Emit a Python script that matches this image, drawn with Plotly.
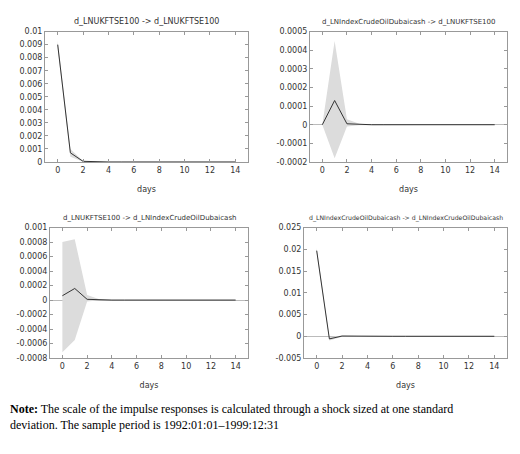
import plotly.graph_objects as go

days = list(range(15))

# impulse responses (point estimate, upper and lower band)
ftse_ftse = [0.009, 0.0007, 0.00005, 0.000005] + [0] * 11
ftse_ftse_hi = [0.0093, 0.001, 0.00008, 0.00001] + [0] * 11
ftse_ftse_lo = [0.0087, 0.0004, 0.00002, 0.0] + [0] * 11

oil_ftse = [0, 0.00013, 0.000005, 0.000001] + [0] * 11
oil_ftse_hi = [0, 0.00045, 0.00003, 0.000005] + [0] * 11
oil_ftse_lo = [0, -0.00018, -0.00001, -0.000003] + [0] * 11

ftse_oil = [0.00006, 0.00016, 0.00001, 0.000002] + [0] * 11
ftse_oil_hi = [0.0008, 0.00084, 0.00007, 0.00001] + [0] * 11
ftse_oil_lo = [-0.00072, -0.00055, -0.00002, -0.000003] + [0] * 11

oil_oil = [0.0197, -0.0006, 0.00005, 0.0] + [0] * 11
oil_oil_hi = [0.0203, -0.0002, 0.0002, 0.00002] + [0] * 11
oil_oil_lo = [0.0191, -0.001, -0.0001, -0.00002] + [0] * 11

panels = [
    ("d_LNUKFTSE100 -> d_LNUKFTSE100", ftse_ftse, ftse_ftse_hi, ftse_ftse_lo,
     [0, 0.01], [0, 0.001, 0.002, 0.003, 0.004, 0.005, 0.006, 0.007, 0.008, 0.009, 0.01],
     (37, 240), (20, 153)),
    ("d_LNIndexCrudeOilDubaicash -> d_LNUKFTSE100", oil_ftse, oil_ftse_hi, oil_ftse_lo,
     [-0.0002, 0.0005], [-0.0002, -0.0001, 0, 0.0001, 0.0002, 0.0003, 0.0004, 0.0005],
     (302, 499), (20, 153)),
    ("d_LNUKFTSE100 -> d_LNIndexCrudeOilDubaicash", ftse_oil, ftse_oil_hi, ftse_oil_lo,
     [-0.0008, 0.001], [-0.0008, -0.0006, -0.0004, -0.0002, 0, 0.0002, 0.0004, 0.0006, 0.0008, 0.001],
     (42, 240), (220, 353)),
    ("d_LNIndexCrudeOilDubaicash -> d_LNIndexCrudeOilDubaicash", oil_oil, oil_oil_hi, oil_oil_lo,
     [-0.005, 0.025], [-0.005, 0, 0.005, 0.01, 0.015, 0.02, 0.025],
     (296, 499), (220, 353)),
]

W, H = 520, 454
fig = go.Figure()
font = dict(family="DejaVu Sans", size=8, color="#333")

for i, (title, y, hi, lo, yr, yt, (x0, x1), (y0, y1)) in enumerate(panels):
    n = "" if i == 0 else str(i + 1)
    xa, ya = "x" + n, "y" + n
    fig.add_trace(go.Scatter(x=days + days[::-1], y=hi + lo[::-1], fill="toself",
                             fillcolor="#dcdcdc", line=dict(width=0), mode="lines",
                             xaxis=xa, yaxis=ya, showlegend=False, hoverinfo="skip"))
    fig.add_trace(go.Scatter(x=days, y=y, mode="lines", line=dict(color="#333", width=1),
                             xaxis=xa, yaxis=ya, showlegend=False))
    axis = dict(showgrid=False, showline=True, linecolor="#999", linewidth=1, mirror="ticks",
                ticks="inside", ticklen=3, tickcolor="#999", tickfont=font)
    fig.update_layout({
        "xaxis" + n: dict(axis, domain=[x0 / W, x1 / W], range=[-1, 15], dtick=2,
                          anchor=ya, zeroline=False,
                          title=dict(text="days", font=font, standoff=12)),
        "yaxis" + n: dict(axis, domain=[1 - y1 / H, 1 - y0 / H], range=yr, tickvals=yt,
                          ticktext=[f"{v:g}" if abs(v) >= 0.001 or v == 0 else f"{v:.4f}" for v in yt],
                          anchor=xa, zeroline=True, zerolinecolor="#bbb", zerolinewidth=1),
    })
    tsize = 8 if len(title) < 40 else 7 if len(title) < 50 else 6.2
    fig.add_annotation(text=title, x=(x0 + x1) / 2 / W, y=1 - (y0 - 4) / H, xref="paper",
                       yref="paper", showarrow=False, xanchor="center", yanchor="bottom",
                       font=dict(font, size=tsize))

fig.add_annotation(
    text="<b>Note:</b> The scale of the impulse responses is calculated through a shock sized at one standard<br>"
         "deviation. The sample period is 1992:01:01\u20131999:12:31",
    x=0.0, y=1 - 396 / H, xref="paper", yref="paper", xanchor="left", yanchor="top",
    align="left", showarrow=False,
    font=dict(family="Liberation Serif", size=12, color="black"))

fig.update_layout(width=W, height=H, margin=dict(l=0, r=0, t=0, b=0),
                  plot_bgcolor="white", paper_bgcolor="white")
fig.write_html("out.html")
